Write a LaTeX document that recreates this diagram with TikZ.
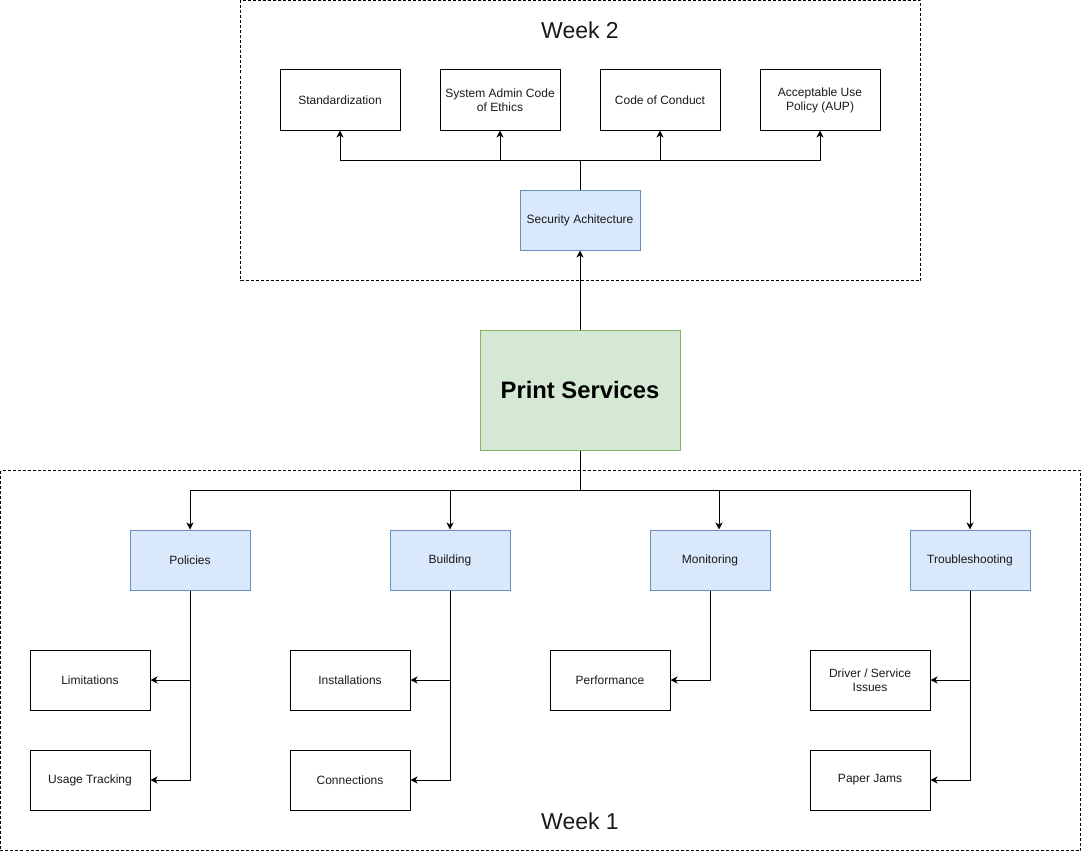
\documentclass[tikz,border=0pt]{standalone}
\usepackage{fontspec}
\setmainfont{Liberation Sans}
\usetikzlibrary{arrows.meta}
\definecolor{bfill}{HTML}{DAE8FC}
\definecolor{bdraw}{HTML}{6C8EBF}
\definecolor{gfill}{HTML}{D5E8D4}
\definecolor{gdraw}{HTML}{82B366}
\begin{document}
\begin{tikzpicture}[x=1pt,y=-1pt,
  box/.style={draw=black,line width=1pt,minimum width=120pt,minimum height=60pt,inner sep=0pt,align=center,font=\fontsize{12}{14}\selectfont,text=black!90},
  bluebox/.style={box,draw=bdraw,fill=bfill},
  greenbox/.style={draw=gdraw,fill=gfill,line width=1pt,minimum width=200pt,minimum height=120pt,inner sep=0pt,font=\fontsize{23.8}{28}\selectfont\bfseries},
  group/.style={draw=black,line width=0.8pt,dash pattern=on 3pt off 2pt},
  title/.style={font=\fontsize{23}{28}\selectfont,text=black!90},
  arr/.style={line width=1pt,-{Stealth[length=7pt,width=7pt,inset=2pt]}},
  ln/.style={line width=1pt}]
\useasboundingbox (0,0) rectangle (1081,851);
% groups
\draw[group] (240.5,0.5) rectangle (920.5,280.5);
\draw[group] (0.5,470.5) rectangle (1080.5,850.5);
\node[title] (w2) at (580,30) {Week 2};
\node[title] (w1) at (580,821) {Week 1};
% week 2 nodes
\node[box] (std) at (340,100) {Standardization};
\node[box] (eth) at (500,100) {System Admin Code\\of Ethics};
\node[box] (coc) at (660,100) {Code of Conduct};
\node[box] (aup) at (820,100) {Acceptable Use\\Policy (AUP)};
\node[bluebox] (sec) at (580,220) {Security Achitecture};
% center
\node[greenbox] (ps) at (580,390) {Print Services};
% week 1 nodes
\node[bluebox] (pol) at (190,560) {Policies};
\node[bluebox] (bld) at (450,560) {Building};
\node[bluebox] (mon) at (710,560) {Monitoring};
\node[bluebox] (trb) at (970,560) {Troubleshooting};
\node[box] (lim) at (90,680) {Limitations};
\node[box] (use) at (90,780) {Usage Tracking};
\node[box] (ins) at (350,680) {Installations};
\node[box] (con) at (350,780) {Connections};
\node[box] (per) at (610,680) {Performance};
\node[box] (drv) at (870,680) {Driver / Service\\Issues};
\node[box] (jam) at (870,780) {Paper Jams};
% junctions
\coordinate (j2) at (580,160);
\coordinate (j1) at (580,490);
% connectors week 2
\draw[ln] (sec.north) -- (j2);
\draw[arr] (j2) -| (std.south);
\draw[arr] (j2) -| (eth.south);
\draw[arr] (j2) -| (coc.south);
\draw[arr] (j2) -| (aup.south);
\draw[arr] (ps.north) -- (sec.south);
% connectors week 1
\draw[ln] (ps.south) -- (j1);
\draw[arr] (j1) -| (pol.north);
\draw[arr] (j1) -| (bld.north);
\draw[arr] (j1) -| ([xshift=9pt]mon.north);
\draw[arr] (j1) -| (trb.north);
\draw[arr] (pol.south) |- (lim.east);
\draw[arr] (pol.south) |- (use.east);
\draw[arr] (bld.south) |- (ins.east);
\draw[arr] (bld.south) |- (con.east);
\draw[arr] (mon.south) |- (per.east);
\draw[arr] (trb.south) |- (drv.east);
\draw[arr] (trb.south) |- (jam.east);
\end{tikzpicture}
\end{document}
